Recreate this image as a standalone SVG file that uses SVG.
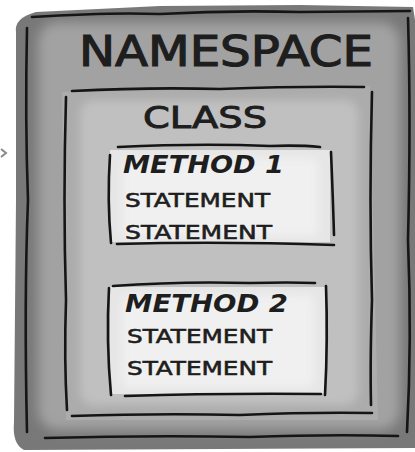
<svg xmlns="http://www.w3.org/2000/svg" width="415" height="452" viewBox="0 0 415 452">
<defs>
<filter id="soft" x="-10%" y="-10%" width="120%" height="120%"><feGaussianBlur stdDeviation="6"/></filter>
<filter id="soft2" x="-10%" y="-10%" width="120%" height="120%"><feGaussianBlur stdDeviation="4"/></filter>
<style>
.ln{fill:none;stroke:#151515;stroke-width:2.6;stroke-linecap:round;stroke-linejoin:round}
.t{font-family:"DejaVu Sans","Liberation Sans",sans-serif;fill:#1e1e1e}
.big{font-size:42px;font-weight:normal;stroke:#1e1e1e;stroke-width:1.2}
.cls{font-size:30px;font-weight:normal;stroke:#1e1e1e;stroke-width:0.9}
.mth{font-size:24px;font-weight:bold;font-style:italic}
.st{font-size:20px;font-weight:normal;stroke:#1e1e1e;stroke-width:0.6}
</style>
</defs>
<rect width="415" height="452" fill="#ffffff"/>
<!-- connector fragment -->
<g id="connectors">
<path d="M1,149 L6,153 L1,157" fill="none" stroke="#8a8a8a" stroke-width="2"/>
</g>
<g id="namespace">
<path d="M16,32 Q14,18 36,12 L160,6 L300,5 L413,7 L415,20 L415,448 L24,450 Q12,444 14,422 L16,200 Z" fill="#787878"/>
<rect x="38" y="22" width="362" height="408" rx="20" fill="#a2a2a2" filter="url(#soft)"/>
<path class="ln" d="M32,17 Q110,12 160,14 Q230,10 300,12 L410,11"/>
<path class="ln" d="M27,28 Q25,120 28,200 Q24,300 27,432"/>
<path class="ln" d="M408,18 Q411,120 408,240 Q412,340 407,432"/>
<path class="ln" d="M45,438 Q150,435 250,437 Q330,434 398,436"/>
<text class="t big" x="226" y="66" text-anchor="middle" textLength="294" lengthAdjust="spacingAndGlyphs">NAMESPACE</text>
</g>
<g id="class">
<path d="M62,92 L370,86 L378,420 L66,420 Z" fill="#acacac"/>
<rect x="80" y="100" width="278" height="305" rx="14" fill="#c0c0c0" filter="url(#soft2)"/>
<path class="ln" d="M72,91 Q150,87 220,89 Q300,86 364,87"/>
<path class="ln" d="M66,97 Q63,200 66,300 Q64,360 67,410"/>
<path class="ln" d="M372,92 Q369,200 372,300 Q370,360 371,405"/>
<path class="ln" d="M72,416 Q160,413 240,415 Q310,412 372,413"/>
<text class="t cls" x="205" y="128" text-anchor="middle" textLength="124" lengthAdjust="spacingAndGlyphs">CLASS</text>
</g>
<g id="method1">
<rect x="110" y="150" width="220" height="92" fill="#e6e6e6"/>
<rect x="122" y="158" width="196" height="78" rx="6" fill="#f0f0f0" filter="url(#soft2)"/>
<path class="ln" d="M118,147 Q200,143 270,146 Q300,145 320,147"/>
<path class="ln" d="M110,155 Q107,200 111,243"/>
<path class="ln" d="M331,152 Q333,200 334,235"/>
<path class="ln" d="M117,244 Q220,241 334,245"/>
<text class="t mth" x="123" y="173" textLength="161" lengthAdjust="spacingAndGlyphs">METHOD 1</text>
<text class="t st" x="125" y="207" textLength="145" lengthAdjust="spacingAndGlyphs">STATEMENT</text>
<text class="t st" x="125" y="239" textLength="147" lengthAdjust="spacingAndGlyphs">STATEMENT</text>
</g>
<g id="method2">
<rect x="110" y="287" width="215" height="107" fill="#e6e6e6"/>
<rect x="122" y="295" width="192" height="92" rx="6" fill="#f0f0f0" filter="url(#soft2)"/>
<path class="ln" d="M113,286 Q180,281 250,283 Q290,282 315,283"/>
<path class="ln" d="M109,288 Q106,340 111,395"/>
<path class="ln" d="M326,286 Q328,340 325,395"/>
<path class="ln" d="M125,396 Q220,393 321,394"/>
<text class="t mth" x="125" y="312" textLength="163" lengthAdjust="spacingAndGlyphs">METHOD 2</text>
<text class="t st" x="127" y="343" textLength="145" lengthAdjust="spacingAndGlyphs">STATEMENT</text>
<text class="t st" x="127" y="375" textLength="145" lengthAdjust="spacingAndGlyphs">STATEMENT</text>
</g>
</svg>
